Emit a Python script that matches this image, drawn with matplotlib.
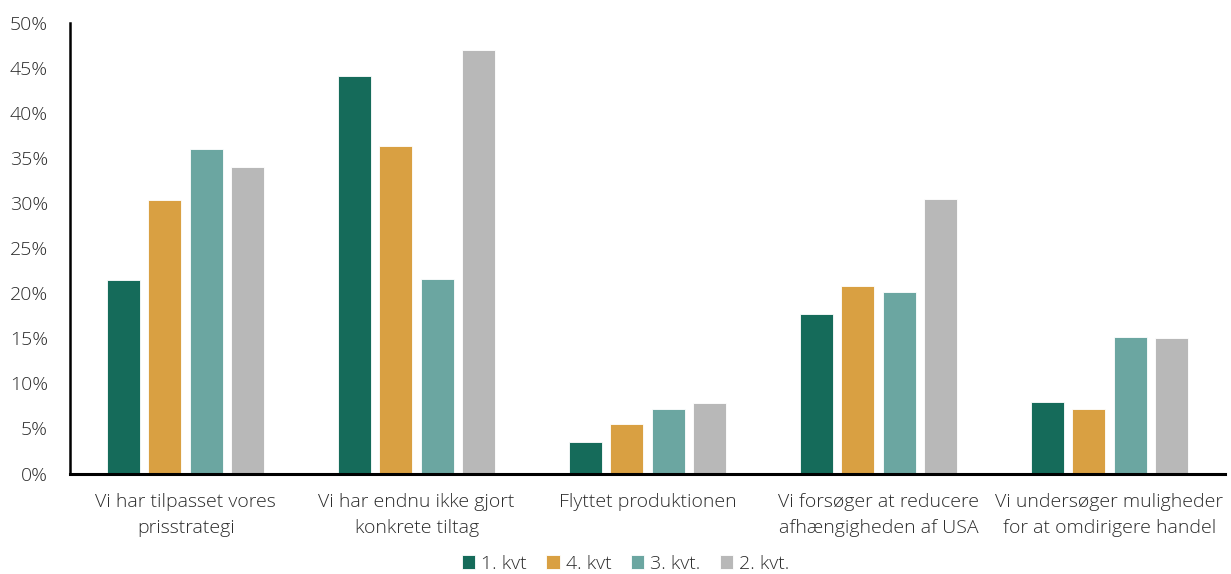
import numpy as np
import matplotlib.pyplot as plt
from matplotlib.ticker import FuncFormatter

plt.rcParams['font.family'] = ['Open Sans', 'DejaVu Sans']
plt.rcParams['font.weight'] = 'light'

categories = ['Vi har tilpasset vores\nprisstrategi',
              'Vi har endnu ikke gjort\nkonkrete tiltag',
              'Flyttet produktionen',
              'Vi forsøger at reducere\nafhængigheden af USA',
              'Vi undersøger muligheder\nfor at omdirigere handel']
series_names = ['1. kvt', '4. kvt', '3. kvt.', '2. kvt.']
q1 = [21.5, 44.1, 3.5, 17.7, 7.9]
q4 = [30.3, 36.4, 5.5, 20.8, 7.2]
q3 = [36.0, 21.6, 7.2, 20.2, 15.1]
q2 = [34.0, 47.0, 7.8, 30.5, 15.0]
colors = ['#156B5A', '#D9A042', '#6BA6A1', '#B8B8B8']

fig, ax = plt.subplots(figsize=(12.31, 5.74), dpi=100)
fig.subplots_adjust(left=0.057, right=0.995, top=0.96, bottom=0.175)

x = np.arange(len(categories))
pitch = 0.18
width = 0.143
for i, (vals, name) in enumerate(zip([q1, q4, q3, q2], series_names)):
    ax.bar(x + (i - 1.5) * pitch, vals, width, color=colors[i], label=name,
           edgecolor='white', linewidth=0.6)

ax.set_xlim(-0.5, len(categories) - 0.5)
ax.set_ylim(0, 50)
ax.set_yticks(np.arange(0, 51, 5))
ax.yaxis.set_major_formatter(FuncFormatter(lambda v, p: f'{v:.0f}%'))
ax.set_xticks(x)
ax.set_xticklabels(categories, linespacing=1.6)
ax.tick_params(axis='both', length=0, labelsize=14, colors='#2b2b2b')
ax.tick_params(axis='x', pad=14)
ax.tick_params(axis='y', pad=16)

for s in ['top', 'right']:
    ax.spines[s].set_visible(False)
ax.spines['left'].set_linewidth(1.8)
ax.spines['bottom'].set_linewidth(2.2)

leg = ax.legend(loc='upper center', bbox_to_anchor=(0.481, -0.172), ncol=4,
                frameon=False, fontsize=14, handlelength=0.7, handleheight=0.7,
                handletextpad=0.3, columnspacing=1.0, labelcolor='#2b2b2b',
                borderaxespad=0, borderpad=0.2)

fig.savefig('out.png')
